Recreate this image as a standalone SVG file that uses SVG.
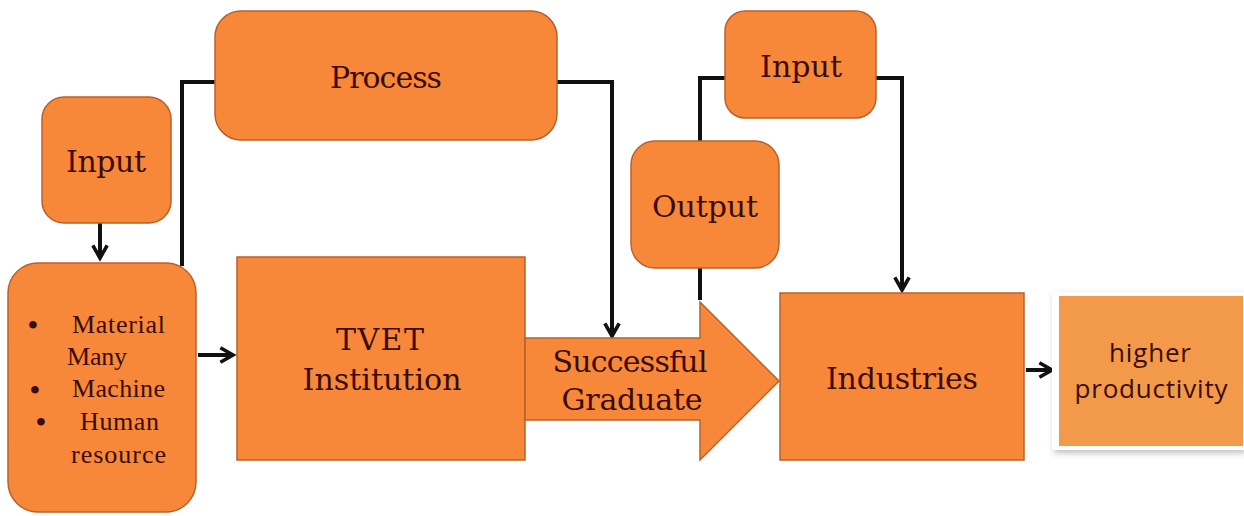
<svg xmlns="http://www.w3.org/2000/svg" width="1244" height="516" viewBox="0 0 1244 516">
<defs>
<style>
.box{fill:#F7883A;stroke:#B8612A;stroke-width:1.5}
.t{font-family:"DejaVu Serif","Liberation Serif",serif;fill:#3A0C02;text-anchor:middle;font-size:30px}
.s{font-family:"Liberation Serif",serif;fill:#3A0C02;font-size:26px}
.b{font-family:"Liberation Serif",serif;fill:#3A0C02;font-size:28px;font-weight:bold}
.c{fill:none;stroke:#111;stroke-width:4}
.p{font-family:"Open Sans","Noto Sans",sans-serif;font-size:26px;fill:#3A0C02;text-anchor:middle}
</style>
<marker id="ah" viewBox="0 0 10 10" refX="8" refY="5" markerWidth="4.5" markerHeight="4.5" orient="auto" markerUnits="strokeWidth">
<path d="M1,1 L8,5 L1,9" fill="none" stroke="#111" stroke-width="2"/>
</marker>
<filter id="sh" x="-10%" y="-10%" width="120%" height="120%">
<feDropShadow dx="2" dy="3" stdDeviation="3" flood-color="#000" flood-opacity="0.25"/>
</filter>
</defs>
<rect width="1244" height="516" fill="#fff"/>
<g id="connectors">
<path class="c" d="M100,222 V258" marker-end="url(#ah)"/>
<path class="c" d="M198,355 H233" marker-end="url(#ah)"/>
<path class="c" d="M182,266 V82 H216"/>
<path class="c" d="M556,82 H612 V336" marker-end="url(#ah)"/>
<path class="c" d="M700,300 V268"/>
<path class="c" d="M700,142 V78 H726"/>
<path class="c" d="M875,78 H902 V290" marker-end="url(#ah)"/>
<path class="c" d="M1026,370 H1052" marker-end="url(#ah)"/>
</g>
<g id="input-left">
<rect class="box" x="42" y="97" width="129" height="126" rx="22"/>
<text class="t" x="106" y="172" textLength="80">Input</text>
</g>
<g id="resources">
<rect class="box" x="8" y="263" width="188" height="249" rx="30"/>
<text class="b" x="28" y="334">•</text>
<text class="s" x="72" y="333" textLength="93">Material</text>
<text class="s" x="67" y="365" textLength="60">Many</text>
<text class="b" x="30" y="399">•</text>
<text class="s" x="72" y="397" textLength="93">Machine</text>
<text class="b" x="36" y="431">•</text>
<text class="s" x="80" y="430" textLength="79">Human</text>
<text class="s" x="71" y="463" textLength="95">resource</text>
</g>
<g id="process">
<rect class="box" x="215" y="11" width="342" height="129" rx="26"/>
<text class="t" x="386" y="88" textLength="112">Process</text>
</g>
<g id="tvet">
<rect class="box" x="237" y="257" width="288" height="203"/>
<text class="t" x="380" y="350" textLength="88">TVET</text>
<text class="t" x="382" y="390" textLength="159">Institution</text>
</g>
<g id="graduate">
<path class="box" d="M525,338 H700 V302 L779,381 L700,460 V420 H525 Z"/>
<text class="t" x="630" y="372" textLength="155">Successful</text>
<text class="t" x="632" y="410" textLength="141">Graduate</text>
</g>
<g id="output">
<rect class="box" x="631" y="141" width="148" height="127" rx="24"/>
<text class="t" x="705" y="217" textLength="106">Output</text>
</g>
<g id="input-top">
<rect class="box" x="725" y="11" width="151" height="107" rx="20"/>
<text class="t" x="801" y="77" textLength="82">Input</text>
</g>
<g id="industries">
<rect class="box" x="780" y="293" width="244" height="167"/>
<text class="t" x="902" y="389" textLength="152">Industries</text>
</g>
<g id="productivity">
<rect x="1052" y="292" width="192" height="158" fill="#fff" filter="url(#sh)"/>
<rect x="1059" y="296" width="184" height="150" fill="#F39A4A"/>
<text class="p" x="1150" y="362" textLength="82">higher</text>
<text class="p" x="1151" y="398" textLength="153">productivity</text>
</g>
</svg>
